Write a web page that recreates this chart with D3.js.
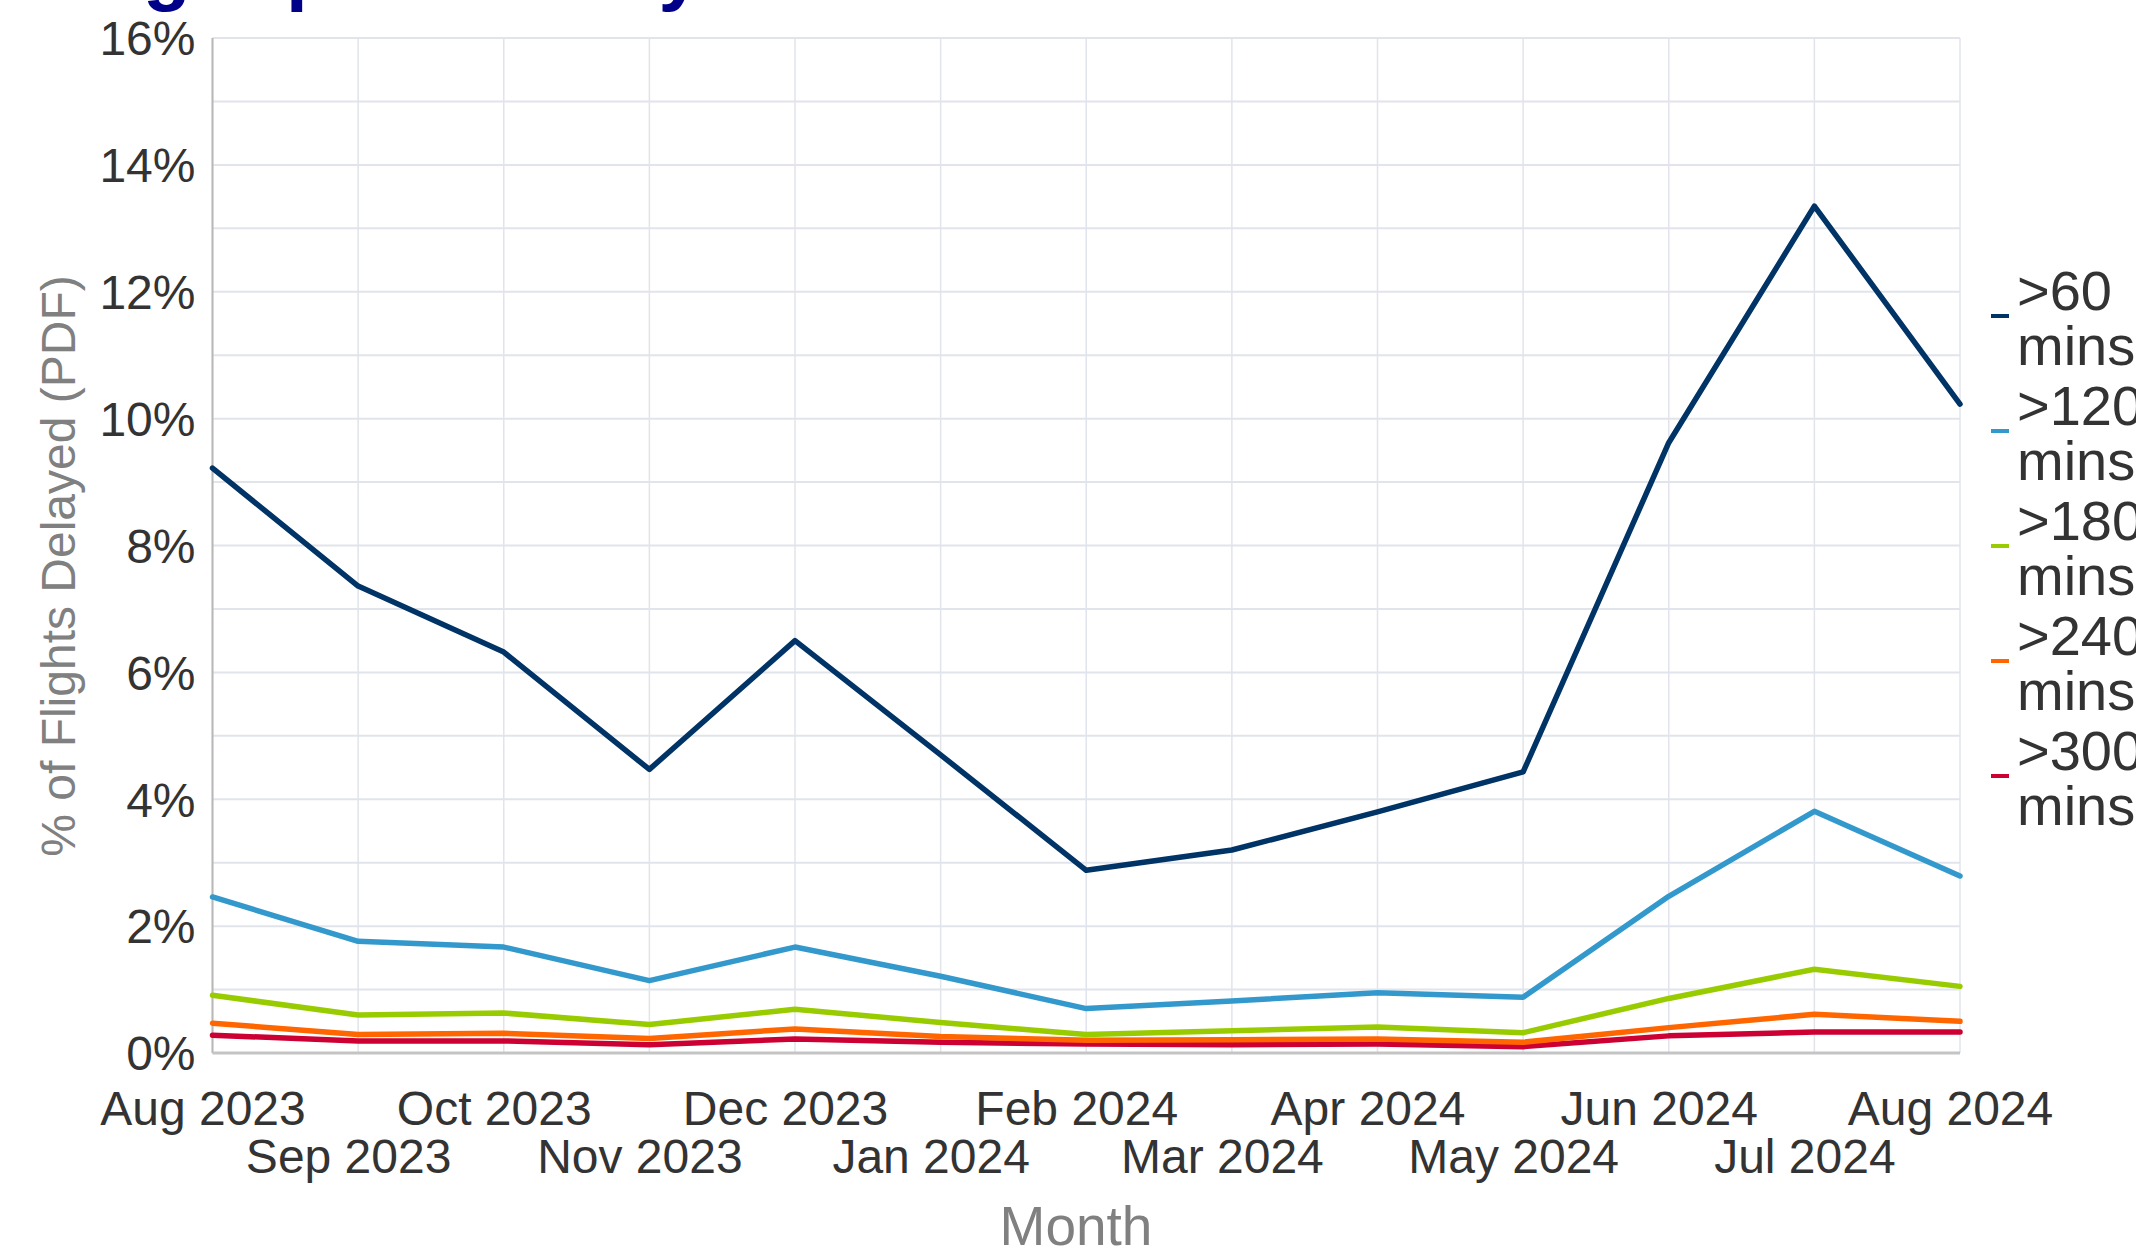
<!DOCTYPE html>
<html>
<head>
<meta charset="utf-8">
<script src="https://cdn.jsdelivr.net/npm/d3@7"></script>
<style>
  html, body { margin: 0; padding: 0; background: #ffffff; overflow: hidden; }
  svg { display: block; font-family: "Liberation Sans", Arial, Helvetica, sans-serif; }
</style>
</head>
<body>
<svg id="chart" width="2136" height="1256"></svg>
<script>
const months = ["Aug 2023","Sep 2023","Oct 2023","Nov 2023","Dec 2023","Jan 2024","Feb 2024","Mar 2024","Apr 2024","May 2024","Jun 2024","Jul 2024","Aug 2024"];
const seriesNames = [">60 mins", ">120 mins", ">180 mins", ">240 mins", ">300 mins"];
const seriesColors = ["#003366", "#3399CC", "#99CC00", "#FF6600", "#CC0033"];
const delay60  = [9.22, 7.36, 6.32, 4.47, 6.50, 4.70, 2.88, 3.20, 3.80, 4.43, 9.62, 13.35, 10.23];
const delay120 = [2.46, 1.76, 1.67, 1.14, 1.67, 1.21, 0.70, 0.82, 0.95, 0.88, 2.47, 3.81, 2.79];
const delay180 = [0.91, 0.60, 0.63, 0.45, 0.69, 0.48, 0.29, 0.35, 0.41, 0.32, 0.86, 1.32, 1.05];
const delay240 = [0.47, 0.29, 0.31, 0.23, 0.38, 0.26, 0.20, 0.21, 0.22, 0.17, 0.40, 0.61, 0.50];
const delay300 = [0.28, 0.19, 0.19, 0.13, 0.22, 0.17, 0.14, 0.13, 0.14, 0.10, 0.27, 0.33, 0.33];
const seriesValues = [delay60, delay120, delay180, delay240, delay300];
const yTicks = [0, 2, 4, 6, 8, 10, 12, 14, 16];
const yMinorTicks = d3.range(0, 17, 1);
const titleText = "Flight punctuality";
const yAxisTitle = "% of Flights Delayed (PDF)";
const xAxisTitle = "Month";

(function () {
const svg = d3.select("#chart");
const pLeft = 212.5, pRight = 1960, pTop = 38, pBottom = 1053;

const x = d3.scalePoint().domain(months).range([pLeft, pRight]);
const y = d3.scaleLinear().domain([0, 16]).range([pBottom, pTop]);

// title (almost entirely cut off at the top edge)
svg.append("text").attr("x", 52).attr("y", -4)
  .attr("font-size", 78).attr("font-weight", "bold").attr("fill", "#000088")
  .text(titleText);

// grid
const grid = svg.append("g");
grid.selectAll("line.h").data(yMinorTicks).enter().append("line")
  .attr("x1", pLeft).attr("x2", pRight)
  .attr("y1", d => y(d)).attr("y2", d => y(d))
  .attr("stroke", "#e1e4ea").attr("stroke-width", 2);
grid.selectAll("line.v").data(months).enter().append("line")
  .attr("x1", d => x(d)).attr("x2", d => x(d))
  .attr("y1", pTop).attr("y2", pBottom)
  .attr("stroke", "#e1e4ea").attr("stroke-width", 1.5);

// axes lines
svg.append("line").attr("x1", pLeft).attr("x2", pLeft).attr("y1", pTop).attr("y2", pBottom)
  .attr("stroke", "#b8b8b8").attr("stroke-width", 2);
svg.append("line").attr("x1", pLeft).attr("x2", pRight).attr("y1", pBottom).attr("y2", pBottom)
  .attr("stroke", "#c4c4c4").attr("stroke-width", 3);

// y axis labels
const yAxis = d3.axisLeft(y).tickValues(yTicks).tickFormat(d => d + "%").tickSize(0).tickPadding(0);
const yg = svg.append("g").attr("transform", `translate(${pLeft - 17},0)`).call(yAxis);
yg.select(".domain").remove();
yg.selectAll("text").attr("font-size", 48).attr("fill", "#333333")
  .attr("font-family", "'Liberation Sans', Arial, sans-serif").attr("dy", "0.35em");

// x axis labels (two staggered rows)
const xAxis = d3.axisBottom(x).tickSize(0).tickPadding(0);
const xg = svg.append("g").attr("transform", `translate(-10,${pBottom})`).call(xAxis);
xg.select(".domain").remove();
xg.selectAll("text").attr("font-size", 48).attr("fill", "#333333")
  .attr("font-family", "'Liberation Sans', Arial, sans-serif")
  .attr("dy", null)
  .attr("y", (d, i) => i % 2 === 0 ? 72 : 120);

// axis titles
svg.append("text").attr("transform", "translate(75,566) rotate(-90)")
  .attr("text-anchor", "middle").attr("font-size", 48).attr("fill", "#808080")
  .text(yAxisTitle);
svg.append("text").attr("x", 1076).attr("y", 1245)
  .attr("text-anchor", "middle").attr("font-size", 55).attr("fill", "#808080")
  .text(xAxisTitle);

// lines
const line = d3.line().x((d, i) => x(months[i])).y(d => y(d));
const lines = svg.append("g");
seriesValues.slice().reverse().forEach((vals, ri) => {
  const i = seriesValues.length - 1 - ri;
  lines.append("path").datum(vals).attr("d", line)
    .attr("fill", "none").attr("stroke", seriesColors[i])
    .attr("stroke-width", 5.5).attr("stroke-linejoin", "round").attr("stroke-linecap", "round");
});

// legend (text runs past the right edge as in the original)
const lg = svg.append("g");
seriesNames.forEach((name, i) => {
  const oy = 115 * i;
  lg.append("line").attr("x1", 1991).attr("x2", 2009)
    .attr("y1", 316 + oy).attr("y2", 316 + oy)
    .attr("stroke", seriesColors[i]).attr("stroke-width", 4);
  const parts = name.split(" ");
  const t = lg.append("text").attr("font-size", 56).attr("fill", "#333333");
  t.append("tspan").attr("x", 2017).attr("y", 310 + oy).text(parts[0]);
  t.append("tspan").attr("x", 2017).attr("y", 365 + oy).text(parts[1]);
});
})();
</script>
</body>
</html>
